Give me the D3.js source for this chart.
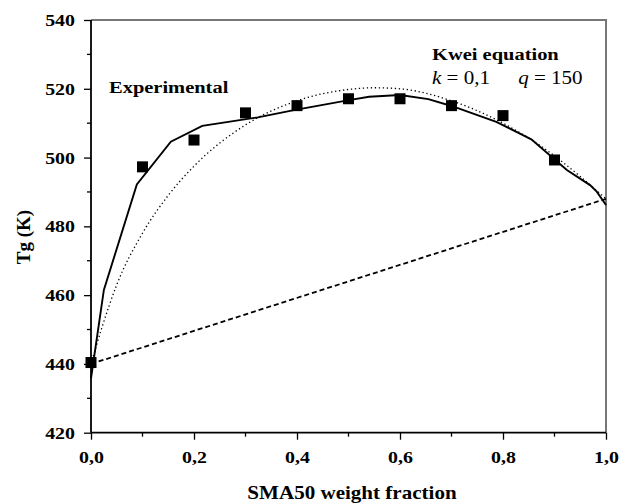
<!DOCTYPE html>
<html>
<head>
<meta charset="utf-8">
<script src="https://cdn.jsdelivr.net/npm/d3@7"></script>
<style>
  body { margin: 0; background: #fff; }
  text { font-family: "Liberation Serif", "Times New Roman", serif; }
</style>
</head>
<body>
<div class="chart"></div>
<script>
// experimental points
var expX = [0, 0.1, 0.2, 0.3, 0.4, 0.5, 0.6, 0.7, 0.8, 0.9];
var expTg = [440.4, 497.3, 505.1, 513, 515.1, 517.1, 517.1, 515.1, 512.2, 499.3];

// solid curve through experimental data
var fitX = [0, 0.025, 0.089, 0.155, 0.216, 0.324, 0.394, 0.501, 0.54, 0.60, 0.655, 0.70, 0.787, 0.855, 0.924, 0.969, 0.982, 1.0];
var fitTg = [435.8, 461.5, 492.2, 504.6, 509.2, 511.7, 513.8, 516.7, 517.7, 518.2, 517, 515, 510.4, 505.3, 496.4, 492, 490.1, 486.2];

// Kwei equation curve (dotted)
var kweiX = [0, 0.02, 0.05, 0.1, 0.15, 0.2, 0.3, 0.4, 0.5, 0.55, 0.6, 0.7, 0.8, 0.9, 0.95, 1.0];
var kweiTg = [440, 450, 463, 478, 489, 497.5, 509.5, 516.5, 519.8, 520.3, 520, 516.5, 510, 500.5, 494.5, 488];

// additivity line (dashed)
var lineX = [0, 1];
var lineTg = [440, 488];

var xTicks = [0, 0.2, 0.4, 0.6, 0.8, 1.0];
var xMinor = [0.1, 0.3, 0.5, 0.7, 0.9];
var yTicks = [420, 440, 460, 480, 500, 520, 540];
var yMinor = [430, 450, 470, 490, 510, 530];

var width = 620, height = 503;
var sx = 1.17; // the original figure is a bit stretched horizontally

function drawGraph() {
    var svg = d3.select('.chart')
      .append('svg')
        .attr('width', width)
        .attr('height', height);

    var x = d3.scaleLinear().domain([0, 1]).range([91, 606]);
    var y = d3.scaleLinear().domain([420, 540]).range([432.7, 20]);

    // frame top/right in gray
    svg.append('path')
        .attr('d', 'M' + x(0) + ',' + y(540) + 'H' + x(1) + 'V' + y(420))
        .attr('fill', 'none')
        .attr('stroke', '#777')
        .attr('stroke-width', 2);

    var fmt = function(d) { return d3.format('.1f')(d).replace('.', ','); };

    var xAxis = svg.append('g')
        .attr('transform', 'translate(0,' + y(420) + ')')
        .call(d3.axisBottom(x).tickValues(xTicks).tickSize(7).tickPadding(11).tickFormat(fmt));
    xAxis.append('g').selectAll('line')
        .data(xMinor).enter().append('line')
        .attr('x1', function(d) { return x(d); }).attr('x2', function(d) { return x(d); })
        .attr('y1', 0).attr('y2', 4)
        .attr('stroke', '#000').attr('stroke-width', 1.3);

    var yAxis = svg.append('g')
        .attr('transform', 'translate(' + x(0) + ',0)')
        .call(d3.axisLeft(y).tickValues(yTicks).tickSize(7).tickPadding(8));
    yAxis.append('g').selectAll('line')
        .data(yMinor).enter().append('line')
        .attr('y1', function(d) { return y(d); }).attr('y2', function(d) { return y(d); })
        .attr('x1', 0).attr('x2', -4)
        .attr('stroke', '#000').attr('stroke-width', 1.3);

    svg.selectAll('.domain').attr('stroke-width', 1.8);
    xAxis.select('.domain').attr('d', 'M' + x(0) + ',0H' + x(1));
    yAxis.select('.domain').attr('d', 'M0,' + y(420) + 'V' + y(540));
    svg.selectAll('.tick line').attr('stroke-width', 1.3);
    svg.selectAll('.tick text')
        .style('font-family', '"Liberation Serif", serif')
        .style('font-weight', 'bold')
        .style('font-size', '17px')
        .attr('fill', '#000');
    // stretch tick labels like the original
    xAxis.selectAll('.tick text')
        .attr('transform', function() { return 'translate(0,' + d3.select(this).attr('y') + ') scale(' + sx + ',1)'; })
        .attr('y', 0);
    yAxis.selectAll('.tick text')
        .attr('transform', 'translate(-16,0) scale(' + sx + ',1)')
        .attr('x', 0);

    var line = d3.line()
        .x(function(d) { return x(d[0]); })
        .y(function(d) { return y(d[1]); });

    // dashed line
    svg.append('path')
        .datum(d3.zip(lineX, lineTg))
        .attr('d', line)
        .attr('fill', 'none')
        .attr('stroke', '#000')
        .attr('stroke-width', 1.8)
        .attr('stroke-dasharray', '5,3');

    // dotted Kwei curve
    svg.append('path')
        .datum(d3.zip(kweiX, kweiTg))
        .attr('d', line.curve(d3.curveMonotoneX))
        .attr('fill', 'none')
        .attr('stroke', '#000')
        .attr('stroke-width', 1.3)
        .attr('stroke-dasharray', '1.3,2.7');

    // solid curve
    svg.append('path')
        .datum(d3.zip(fitX, fitTg))
        .attr('d', line.curve(d3.curveLinear))
        .attr('fill', 'none')
        .attr('stroke', '#000')
        .attr('stroke-width', 1.9);

    // squares
    var s = 11;
    svg.selectAll('rect.pt')
        .data(d3.zip(expX, expTg))
        .enter()
        .append('rect')
        .attr('class', 'pt')
        .attr('x', function(d) { return x(d[0]) - s / 2; })
        .attr('y', function(d) { return y(d[1]) - s / 2; })
        .attr('width', s)
        .attr('height', s)
        .attr('fill', '#000');

    // labels
    function label(px, py, rot) {
        return svg.append('text')
            .attr('transform', 'translate(' + px + ',' + py + ')' + (rot ? ' rotate(-90)' : '') + ' scale(' + sx + ',1)');
    }

    label(109, 92.5)
        .style('font-weight', 'bold').style('font-size', '17.5px')
        .text('Experimental');

    label(432, 59.5)
        .style('font-weight', 'bold').style('font-size', '17.5px')
        .text('Kwei equation');

    var eq = label(432, 83.5)
        .style('font-size', '18px');
    eq.append('tspan').style('font-style', 'italic').text('k');
    eq.append('tspan').text(' = 0,1');
    eq.append('tspan').attr('dx', 24).style('font-style', 'italic').text('q');
    eq.append('tspan').text(' = 150');

    label(352, 499)
        .attr('text-anchor', 'middle')
        .style('font-weight', 'bold').style('font-size', '18px')
        .text('SMA50 weight fraction');

    svg.append('text')
        .attr('transform', 'translate(30,237) rotate(-90)')
        .attr('text-anchor', 'middle')
        .style('font-weight', 'bold').style('font-size', '19px')
        .text('Tg (K)');
}

drawGraph();
</script>
</body>
</html>
